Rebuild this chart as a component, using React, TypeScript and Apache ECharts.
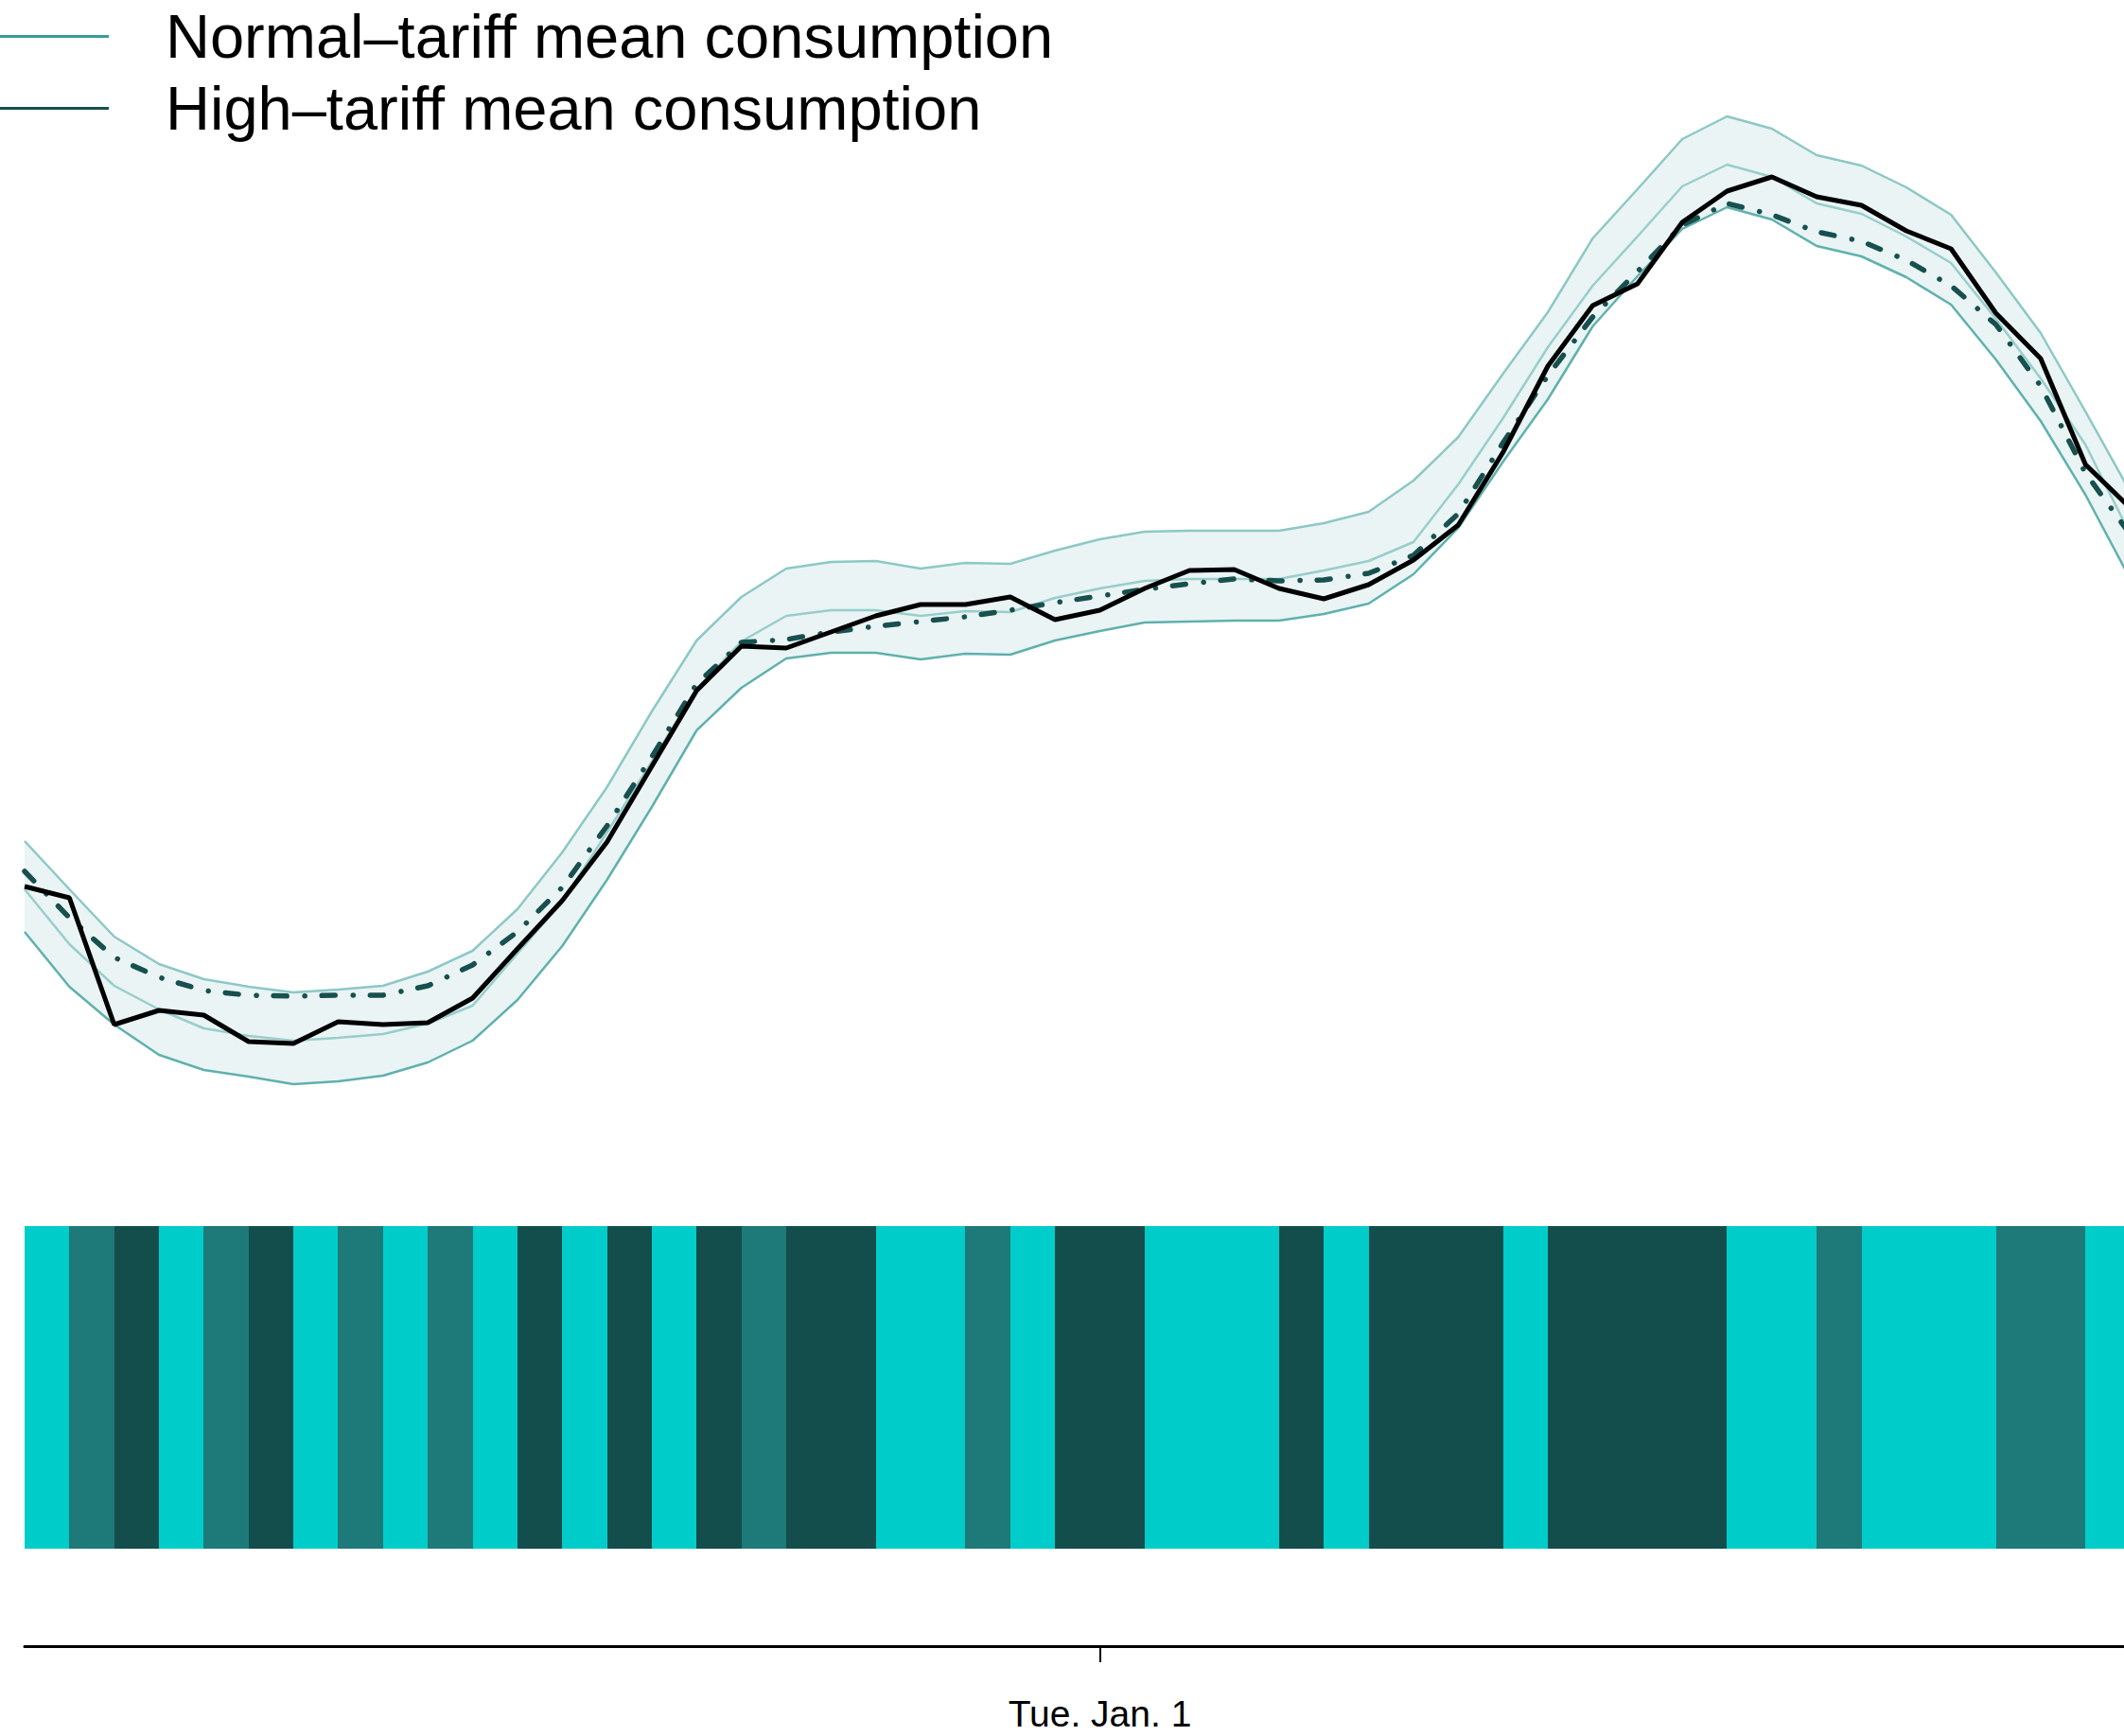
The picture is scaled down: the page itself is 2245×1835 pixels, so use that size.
import React, { useEffect, useRef } from 'react';
import * as echarts from 'echarts';

// Half-hourly slots (index 0..47); slot 24 = midnight, Tue. Jan. 1
const upperBound = [0.361, 0.310, 0.260, 0.231, 0.215, 0.207, 0.201, 0.204, 0.208, 0.223, 0.245, 0.289, 0.349, 0.418, 0.498, 0.573, 0.619, 0.649, 0.656, 0.657, 0.649, 0.655, 0.654, 0.668, 0.680, 0.688, 0.689, 0.689, 0.689, 0.697, 0.709, 0.742, 0.788, 0.855, 0.920, 0.998, 1.050, 1.103, 1.127, 1.114, 1.086, 1.075, 1.052, 1.023, 0.962, 0.898, 0.815, 0.730];
const normalMean = [0.310, 0.252, 0.208, 0.183, 0.163, 0.155, 0.150, 0.153, 0.157, 0.168, 0.187, 0.242, 0.297, 0.370, 0.445, 0.522, 0.572, 0.599, 0.605, 0.605, 0.599, 0.604, 0.603, 0.618, 0.628, 0.636, 0.638, 0.638, 0.638, 0.647, 0.657, 0.677, 0.738, 0.808, 0.883, 0.948, 1.000, 1.053, 1.076, 1.063, 1.035, 1.024, 1.000, 0.972, 0.913, 0.850, 0.780, 0.685];
const lowerBound = [0.265, 0.207, 0.167, 0.135, 0.119, 0.112, 0.104, 0.107, 0.113, 0.127, 0.150, 0.193, 0.250, 0.320, 0.397, 0.478, 0.523, 0.554, 0.560, 0.560, 0.553, 0.559, 0.558, 0.573, 0.583, 0.592, 0.593, 0.594, 0.594, 0.601, 0.612, 0.643, 0.692, 0.762, 0.828, 0.905, 0.958, 1.008, 1.031, 1.018, 0.990, 0.979, 0.957, 0.928, 0.870, 0.805, 0.727, 0.638];
const highMean = [0.329, 0.280, 0.238, 0.217, 0.203, 0.198, 0.197, 0.198, 0.198, 0.208, 0.230, 0.265, 0.312, 0.377, 0.450, 0.527, 0.571, 0.574, 0.582, 0.588, 0.593, 0.598, 0.605, 0.613, 0.620, 0.627, 0.633, 0.638, 0.636, 0.637, 0.644, 0.663, 0.707, 0.782, 0.853, 0.915, 0.963, 1.012, 1.035, 1.023, 1.005, 0.995, 0.975, 0.948, 0.907, 0.842, 0.750, 0.685];
const household = [0.313, 0.301, 0.167, 0.182, 0.177, 0.149, 0.147, 0.170, 0.167, 0.169, 0.195, 0.247, 0.298, 0.360, 0.440, 0.520, 0.567, 0.565, 0.582, 0.599, 0.611, 0.611, 0.619, 0.595, 0.605, 0.628, 0.647, 0.648, 0.628, 0.617, 0.632, 0.658, 0.695, 0.772, 0.863, 0.927, 0.950, 1.015, 1.048, 1.063, 1.042, 1.033, 1.006, 0.987, 0.919, 0.871, 0.759, 0.713];

// Tariff applied in each half-hour slot [i, i+1]
const tariffs = ['Low', 'Normal', 'High', 'Low', 'Normal', 'High', 'Low', 'Normal', 'Low', 'Normal', 'Low', 'High', 'Low', 'High', 'Low', 'High', 'Normal', 'High', 'High', 'Low', 'Low', 'Normal', 'Low', 'High', 'High', 'Low', 'Low', 'Low', 'High', 'Low', 'High', 'High', 'High', 'Low', 'High', 'High', 'High', 'High', 'Low', 'Low', 'Normal', 'Low', 'Low', 'Low', 'Normal', 'Normal', 'Low'];

const tickPositions = [24];
const tickLabels = ['Tue. Jan. 1'];

const TARIFF_COLORS: Record<string, string> = {
  Low: '#00CDCA',
  Normal: '#1E7A78',
  High: '#134E4C',
};

const FONT = '"Liberation Sans", Arial, Helvetica, sans-serif';
const X_MIN = 0;
const X_MAX = 46.86;

const pts = (arr: number[]) => arr.map((v, i) => [i, v]);

export default function App() {
  const ref = useRef<HTMLDivElement>(null);

  useEffect(() => {
    if (!ref.current) return;
    const chart = echarts.init(ref.current, undefined, { renderer: 'svg' });

    const option: any = {
      animation: false,
      backgroundColor: '#ffffff',
      textStyle: { fontFamily: FONT },
      legend: {
        orient: 'vertical',
        left: -25,
        top: 1,
        itemWidth: 135,
        itemHeight: 3,
        itemGap: 11,
        icon: 'rect',
        selectedMode: false,
        textStyle: {
          fontFamily: FONT,
          fontSize: 65,
          lineHeight: 65,
          color: '#000000',
          padding: [0, 0, 0, 55],
        },
        data: [
          { name: 'Normal–tariff mean consumption', icon: 'rect', itemStyle: { color: '#3A9C98' } },
          { name: 'High–tariff mean consumption', icon: 'rect', itemStyle: { color: '#17504F' } },
        ],
      },
      grid: [
        { left: 26, right: 0, top: 100, height: 1150, containLabel: false },
        { left: 26, right: 0, top: 1296, height: 341, containLabel: false },
        { left: 26, right: 0, top: 1700, height: 40, containLabel: false },
      ],
      xAxis: [
        { type: 'value', gridIndex: 0, min: X_MIN, max: X_MAX, show: false },
        { type: 'value', gridIndex: 1, min: X_MIN, max: X_MAX, show: false },
        {
          type: 'value', gridIndex: 2, min: X_MIN, max: X_MAX,
          position: 'bottom',
          axisLine: { show: true, onZero: false, lineStyle: { color: '#000000', width: 3 } },
          axisTick: { show: true, length: 17, lineStyle: { color: '#000000', width: 2 }, customValues: tickPositions },
          axisLabel: {
            show: true, margin: 52, fontSize: 39, color: '#000000', fontFamily: FONT,
            customValues: tickPositions,
            formatter: (v: number) => {
              const k = tickPositions.indexOf(Math.round(v));
              return k >= 0 ? tickLabels[k] : '';
            },
          },
          splitLine: { show: false },
        },
      ],
      yAxis: [
        { type: 'value', gridIndex: 0, min: 0, max: 1.15, show: false },
        { type: 'value', gridIndex: 1, min: 0, max: 1, show: false },
        { type: 'value', gridIndex: 2, min: 0, max: 1, show: false },
      ],
      series: [
        {
          type: 'custom', name: 'Confidence band', xAxisIndex: 0, yAxisIndex: 0,
          silent: true,
          data: [[0]],
          renderItem: (_params: any, api: any) => {
            const top = upperBound.map((v, i) => api.coord([i, v]));
            const bottom = lowerBound.map((v, i) => api.coord([i, v])).reverse();
            return {
              type: 'polygon',
              shape: { points: top.concat(bottom) },
              style: { fill: '#EAF4F4' },
            };
          },
        },
        {
          type: 'line', name: 'Upper bound', xAxisIndex: 0, yAxisIndex: 0,
          data: pts(upperBound), symbol: 'none', silent: true,
          lineStyle: { color: '#8DC8C5', width: 2.5 },
        },
        {
          type: 'line', name: 'Normal–tariff mean consumption', xAxisIndex: 0, yAxisIndex: 0,
          data: pts(normalMean), symbol: 'none', silent: true,
          itemStyle: { color: '#3A9C98' },
          lineStyle: { color: '#98CECB', width: 2.5 },
        },
        {
          type: 'line', name: 'Lower bound', xAxisIndex: 0, yAxisIndex: 0,
          data: pts(lowerBound), symbol: 'none', silent: true,
          lineStyle: { color: '#5FB1AD', width: 2.5 },
        },
        {
          type: 'line', name: 'High–tariff mean consumption', xAxisIndex: 0, yAxisIndex: 0,
          data: pts(highMean), symbol: 'none', silent: true,
          itemStyle: { color: '#17504F' },
          lineStyle: { color: '#17504F', width: 5.5, type: [14, 19, 0.1, 18], cap: 'round' },
        },
        {
          type: 'line', name: 'Household consumption', xAxisIndex: 0, yAxisIndex: 0,
          data: pts(household), symbol: 'none', silent: true,
          lineStyle: { color: '#000000', width: 5 },
          z: 5,
        },
        {
          type: 'custom', name: 'Tariff', xAxisIndex: 1, yAxisIndex: 1,
          silent: true,
          data: tariffs.map((t, i) => [i, i + 1, t]),
          renderItem: (params: any, api: any) => {
            const s = api.coord([api.value(0), 1]);
            const e = api.coord([api.value(1), 0]);
            const x0 = Math.round(s[0]);
            const x1 = Math.round(e[0]);
            const t = tariffs[params.dataIndex];
            return {
              type: 'rect',
              shape: { x: x0, y: Math.round(s[1]), width: x1 - x0, height: Math.round(e[1]) - Math.round(s[1]) },
              style: { fill: TARIFF_COLORS[t] },
            };
          },
        },
      ],
    };

    chart.setOption(option);
    return () => chart.dispose();
  }, []);

  return (
    <div
      ref={ref}
      style={{ position: 'fixed', left: 0, top: 0, width: 2245, height: 1835, background: '#fff' }}
    />
  );
}
